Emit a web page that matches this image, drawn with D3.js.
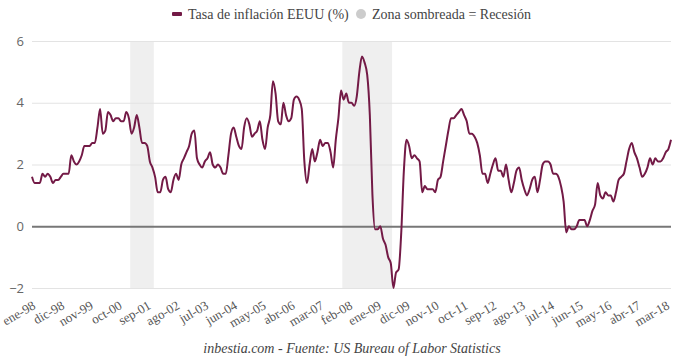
<!DOCTYPE html>
<html>
<head>
<meta charset="utf-8">
<script src="https://cdn.jsdelivr.net/npm/d3@7"></script>
<style>
  body { margin: 0; background: #fff; }
  svg { display: block; }
</style>
</head>
<body>
<script>
const width = 680;
const height = 363;
const margin = { top: 41, right: 9, bottom: 75, left: 32 };

// nombres de los meses para las etiquetas
const meses = ['ene', 'feb', 'mar', 'abr', 'may', 'jun', 'jul', 'ago', 'sep', 'oct', 'nov', 'dic'];
const anioInicio = 1998;

// inflacion interanual EEUU (%), ene-98 .. may-18
const inflacion = [
  1.6, 1.4, 1.4, 1.4, 1.7, 1.6, 1.7, 1.6, 1.4, 1.5, 1.5, 1.6,   // 1998
  1.7, 1.7, 1.7, 2.3, 2.1, 2.0, 2.1, 2.3, 2.6, 2.6, 2.6, 2.7,   // 1999
  2.7, 3.2, 3.8, 3.0, 3.1, 3.7, 3.6, 3.4, 3.5, 3.5, 3.4, 3.4,   // 2000
  3.7, 3.5, 3.0, 3.2, 3.6, 3.2, 2.7, 2.7, 2.6, 2.1, 1.9, 1.6,   // 2001
  1.1, 1.1, 1.5, 1.6, 1.2, 1.1, 1.5, 1.7, 1.5, 2.0, 2.2, 2.4,   // 2002
  2.6, 3.0, 3.1, 2.2, 2.0, 1.9, 2.1, 2.2, 2.4, 2.0, 1.9, 2.0,   // 2003
  1.9, 1.7, 1.7, 2.3, 3.0, 3.2, 2.9, 2.6, 2.5, 3.2, 3.5, 3.3,   // 2004
  2.9, 3.0, 3.1, 3.4, 2.8, 2.5, 3.2, 3.6, 4.7, 4.3, 3.4, 3.3,   // 2005
  4.0, 3.6, 3.4, 3.5, 4.1, 4.2, 4.1, 3.8, 2.1, 1.4, 2.0, 2.5,   // 2006
  2.1, 2.4, 2.8, 2.6, 2.7, 2.7, 2.4, 1.9, 2.8, 3.5, 4.4, 4.1,   // 2007
  4.3, 4.0, 4.0, 3.9, 4.2, 5.0, 5.5, 5.3, 4.9, 3.6, 1.0, -0.1,  // 2008
  -0.1, 0.0, -0.4, -0.6, -1.0, -1.2, -2.0, -1.5, -1.4, -0.2, 1.8, 2.8, // 2009
  2.6, 2.2, 2.3, 2.2, 2.1, 1.1, 1.3, 1.2, 1.2, 1.2, 1.1, 1.5,   // 2010
  1.6, 2.1, 2.6, 3.1, 3.5, 3.5, 3.6, 3.7, 3.8, 3.6, 3.4, 3.0,   // 2011
  3.0, 2.9, 2.7, 2.3, 1.7, 1.7, 1.4, 1.7, 2.0, 2.2, 1.8, 1.8,   // 2012
  1.6, 2.0, 1.5, 1.1, 1.4, 1.8, 1.9, 1.5, 1.2, 1.0, 1.2, 1.5,   // 2013
  1.6, 1.1, 1.5, 2.0, 2.1, 2.1, 2.0, 1.7, 1.7, 1.6, 1.3, 0.8,   // 2014
  -0.2, 0.0, -0.1, -0.1, 0.0, 0.2, 0.2, 0.2, 0.0, 0.2, 0.5, 0.7, // 2015
  1.4, 1.0, 0.9, 1.1, 1.0, 1.0, 0.8, 1.1, 1.5, 1.6, 1.7, 2.1,   // 2016
  2.5, 2.7, 2.4, 2.2, 1.9, 1.6, 1.7, 1.9, 2.2, 2.0, 2.2, 2.1,   // 2017
  2.1, 2.2, 2.4, 2.5, 2.8                                       // 2018
];

// recesiones (NBER), primer y ultimo mes
const recesiones = [
  ['mar-01', 'nov-01'],
  ['dic-07', 'jun-09']
];

const yTicks = [-2, 0, 2, 4, 6];
const saltoEtiquetas = 11;

const colorLinea = '#731a46';
const colorSombra = '#efefef';

// categorias "ene-98", "feb-98", ...
const categorias = inflacion.map((v, i) => {
  const anio = anioInicio + Math.floor(i / 12);
  return meses[i % 12] + '-' + String(anio).slice(2);
});
const datos = inflacion.map((v, i) => ({ fecha: categorias[i], valor: v }));

const x = d3.scalePoint()
  .domain(categorias)
  .range([margin.left, width - margin.right]);

const y = d3.scaleLinear()
  .domain([-2, 6])
  .range([height - margin.bottom, margin.top]);

const svg = d3.select('body')
  .append('svg')
  .attr('width', width)
  .attr('height', height);

// zonas de recesion
svg.append('g')
  .selectAll('rect')
  .data(recesiones)
  .enter()
  .append('rect')
  .attr('x', d => x(d[0]) - x.step() / 2)
  .attr('width', d => x(d[1]) - x(d[0]) + x.step())
  .attr('y', y(6))
  .attr('height', y(-2) - y(6))
  .attr('fill', colorSombra);

// eje y con lineas de cuadricula
const yAxis = d3.axisLeft(y)
  .tickValues(yTicks)
  .tickSize(-(width - margin.left - margin.right))
  .tickPadding(8);

const gy = svg.append('g')
  .attr('transform', `translate(${margin.left}, 0)`)
  .call(yAxis);
gy.select('.domain').remove();
gy.selectAll('.tick line')
  .attr('stroke', d => d === 0 ? '#777' : '#e3e3e3')
  .attr('stroke-width', d => d === 0 ? 2 : 1);
gy.selectAll('.tick text')
  .attr('x', -8)
  .attr('fill', '#666')
  .style('font-family', '"Open Sans", "DejaVu Sans", sans-serif')
  .style('font-size', '13px');

// eje x: una etiqueta cada 11 meses
const xAxis = d3.axisBottom(x)
  .tickValues(categorias.filter((c, i) => i % saltoEtiquetas === 0))
  .tickSize(0);

const gx = svg.append('g')
  .attr('transform', `translate(0, ${height - margin.bottom})`)
  .call(xAxis);
gx.select('.domain').remove();
gx.selectAll('.tick text')
  .attr('fill', '#555')
  .attr('text-anchor', 'end')
  .attr('dy', 0)
  .attr('y', 0)
  .attr('transform', 'translate(4, 20) rotate(-30)')
  .style('font-family', '"Liberation Serif", "DejaVu Serif", serif')
  .style('font-size', '13px');

// linea de inflacion
const line = d3.line()
  .x(d => x(d.fecha))
  .y(d => y(d.valor))
  .curve(d3.curveMonotoneX);

svg.append('path')
  .datum(datos)
  .attr('fill', 'none')
  .attr('stroke', colorLinea)
  .attr('stroke-width', 2)
  .attr('stroke-linejoin', 'round')
  .attr('d', line);

// leyenda
const leyenda = svg.append('g')
  .style('font-family', '"Liberation Serif", "DejaVu Serif", serif')
  .style('font-size', '14px')
  .attr('fill', '#444');

leyenda.append('rect')
  .attr('x', 172).attr('y', 12)
  .attr('width', 10).attr('height', 4)
  .attr('rx', 1)
  .attr('fill', colorLinea);
leyenda.append('text')
  .attr('x', 188).attr('y', 19)
  .text('Tasa de inflación EEUU (%)');

leyenda.append('circle')
  .attr('cx', 361).attr('cy', 14)
  .attr('r', 5)
  .attr('fill', '#cccccc');
leyenda.append('text')
  .attr('x', 372).attr('y', 19)
  .text('Zona sombreada = Recesión');

// fuente
svg.append('text')
  .attr('x', 352)
  .attr('y', 353)
  .attr('text-anchor', 'middle')
  .attr('fill', '#444')
  .style('font-family', '"Liberation Serif", "DejaVu Serif", serif')
  .style('font-style', 'italic')
  .style('font-size', '14px')
  .text('inbestia.com - Fuente: US Bureau of Labor Statistics');
</script>
</body>
</html>
